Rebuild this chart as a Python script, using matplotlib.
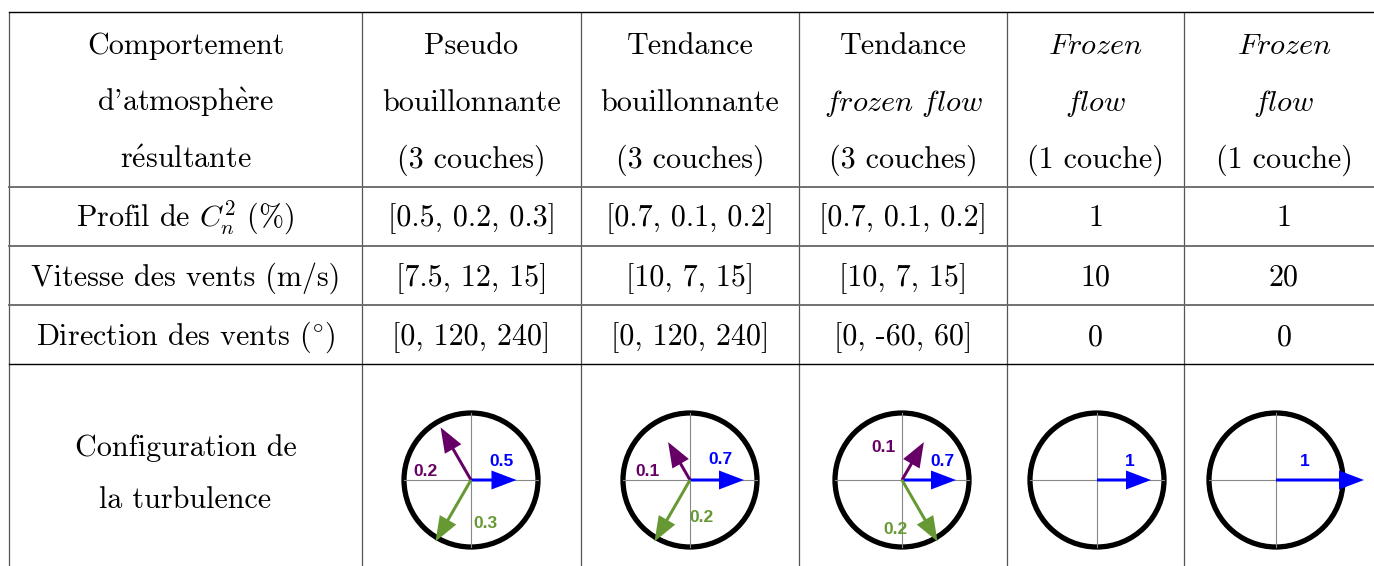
import numpy as np
import matplotlib
matplotlib.use("Agg")
import matplotlib.pyplot as plt
from matplotlib.patches import Circle

plt.rcParams['font.family'] = ['cmr10', 'DejaVu Serif']
plt.rcParams['mathtext.fontset'] = 'cm'
plt.rcParams['axes.unicode_minus'] = False

row_labels = ["Profil de $C_n^2$ (%)", "Vitesse des vents (m/s)",
              r"Direction des vents $(^{\circ})$"]
corner = ["Comportement", r"d'atmosph$\grave{\mathrm{e}}$re", r"r$\acute{\mathrm{e}}$sultante"]
headers = [["Pseudo", "bouillonnante", "(3 couches)"],
           ["Tendance", "bouillonnante", "(3 couches)"],
           ["Tendance", r"$\mathit{frozen\ flow}$", "(3 couches)"],
           [r"$\mathit{Frozen}$", r"$\mathit{flow}$", "(1 couche)"],
           [r"$\mathit{Frozen}$", r"$\mathit{flow}$", "(1 couche)"]]
profils = [[0.5, 0.2, 0.3], [0.7, 0.1, 0.2], [0.7, 0.1, 0.2], [1], [1]]
vitesses = [[7.5, 12, 15], [10, 7, 15], [10, 7, 15], [10], [20]]
directions = [[0, 120, 240], [0, 120, 240], [0, -60, 60], [0], [0]]
# angles as drawn in the little compass pictures
angles_dessin = [[0, 120, 240], [0, 120, 240], [0, 60, -60], [0], [0]]
couleurs = ["#0000ff", "#660066", "#669933"]
last_label = ["Configuration de", "la turbulence"]


def fmt_list(vals):
    if len(vals) == 1:
        return "%g" % vals[0]
    return "[" + ", ".join("%g" % v for v in vals) + "]"


# --- layout (pixels) ---
W, H = 1374, 566
col_x = [9, 362, 581, 799, 1007, 1184]
row_y = [12, 187, 246, 305, 364]
text_cx = [185.5, 471.5, 690, 903, 1095.5, 1284]
circ_cx = [471, 690, 902, 1097, 1276]
circ_cy = 480
R = 67
label_off = [[(31, -18), (-45, -8), (14, 44)],
             [(30, -21), (-43, -8), (12, 38)],
             [(40, -19), (-18, -32), (-6, 49)],
             [(33, -18)],
             [(29, -19)]]

fig = plt.figure(figsize=(W / 100, H / 100), dpi=100)
ax = fig.add_axes([0, 0, 1, 1])
ax.set_xlim(0, W)
ax.set_ylim(H, 0)
ax.axis('off')

# grid of the table
for x in col_x:
    ax.plot([x, x], [row_y[0], H], color='#555555', lw=0.9, solid_capstyle='butt')
for i, y in enumerate(row_y):
    c = 'black' if i in (0, 4) else '#666666'
    ax.plot([col_x[0], W], [y, y], color=c, lw=1.0 if i in (0, 4) else 1.3)

fs = 21.7
# header
base = [54, 111, 168]
for k, line in enumerate(corner):
    ax.text(text_cx[0], base[k], line, ha='center', va='baseline', fontsize=fs)
for j, lines in enumerate(headers):
    for k, line in enumerate(lines):
        ax.text(text_cx[j + 1], base[k], line, ha='center', va='baseline', fontsize=fs)

# body rows
row_base = [226, 286, 345]
tables = [profils, vitesses, directions]
for i, lab in enumerate(row_labels):
    ax.text(text_cx[0], row_base[i], lab, ha='center', va='baseline', fontsize=fs)
    for j, vals in enumerate(tables[i]):
        ax.text(text_cx[j + 1], row_base[i], fmt_list(vals), ha='center', va='baseline', fontsize=fs)

ax.text(text_cx[0], 456, last_label[0], ha='center', va='baseline', fontsize=fs)
ax.text(text_cx[0], 508, last_label[1], ha='center', va='baseline', fontsize=fs)

# compass pictures
for j in range(5):
    cx = circ_cx[j]
    ax.plot([cx - R, cx + R], [circ_cy, circ_cy], color='#888888', lw=0.8)
    ax.plot([cx, cx], [circ_cy - R, circ_cy + R], color='#888888', lw=0.8)
    ax.add_patch(Circle((cx, circ_cy), R, fill=False, ec='black', lw=3.8))
    for k in range(len(profils[j])):
        L = 20 + 3.4 * vitesses[j][k]
        a = np.radians(angles_dessin[j][k])
        dx, dy = L * np.cos(a), -L * np.sin(a)
        ax.arrow(cx, circ_cy, dx, dy, width=3, head_width=19, head_length=25,
                 length_includes_head=True, color=couleurs[k], lw=0, zorder=3)
        ox, oy = label_off[j][k]
        ax.text(cx + ox, circ_cy + oy, "%g" % profils[j][k], color=couleurs[k],
                fontsize=12.5, fontweight='bold', family='Liberation Sans',
                ha='center', va='center', zorder=4)

fig.savefig("out.png", dpi=100)
